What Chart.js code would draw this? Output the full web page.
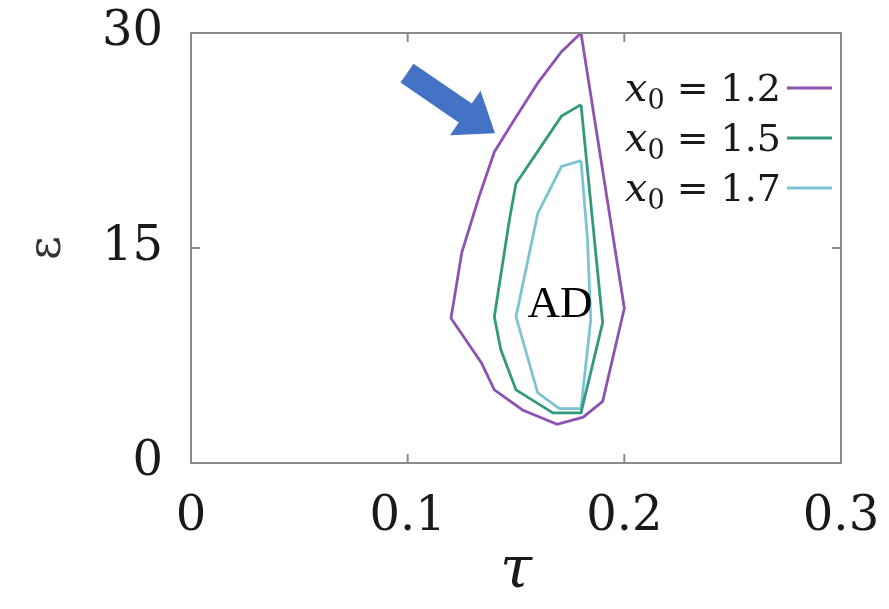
<!DOCTYPE html>
<html>
<head>
<meta charset="utf-8">
<script src="https://cdn.jsdelivr.net/npm/chart.js@4/dist/chart.umd.min.js"></script>
<style>
  html, body { margin: 0; padding: 0; background: #ffffff; }
  #wrap { width: 889px; height: 609px; }
</style>
</head>
<body>
<div id="wrap"><canvas id="c" width="889" height="609"></canvas></div>
<script>
// ---- data ----
const seriesLabels = ['1.2', '1.5', '1.7'];
const seriesColors = ['#8d52b2', '#33997c', '#7cc4d2'];

const tau12 = [0.180, 0.171, 0.160, 0.149, 0.140, 0.133, 0.125, 0.120, 0.134, 0.140, 0.153, 0.169, 0.181, 0.190, 0.200, 0.180];
const eps12 = [30.0, 28.7, 26.5, 23.9, 21.7, 18.6, 14.7, 10.1, 7.0, 5.1, 3.7, 2.7, 3.2, 4.3, 10.8, 30.0];

const tau15 = [0.180, 0.171, 0.150, 0.147, 0.140, 0.143, 0.150, 0.167, 0.180, 0.190, 0.180];
const eps15 = [25.0, 24.2, 19.5, 17.0, 10.2, 7.9, 5.1, 3.5, 3.5, 9.8, 25.0];

const tau17 = [0.180, 0.171, 0.160, 0.150, 0.160, 0.170, 0.180, 0.1845, 0.183, 0.180];
const eps17 = [21.1, 20.7, 17.4, 10.2, 4.9, 3.8, 3.8, 10.0, 15.6, 21.1];

const xTicks = [0, 0.1, 0.2, 0.3];
const yTicks = [0, 15, 30];

// annotation positions (data units)
const arrowTail = { x: 0.0997, y: 27.2 };
const arrowTip = { x: 0.1403, y: 23.0 };
const regionLabel = { x: 0.1703, y: 11.0, text: 'AD' };

function pts(xs, ys) { return xs.map((x, i) => ({ x: x, y: ys[i] })); }

const AXIS_COLOR = '#8a8a8a';
const TICK_FONT = 'DejaVu Serif';

const framePlugin = {
  id: 'frame',
  afterDraw(chart) {
    const ctx = chart.ctx;
    const a = chart.chartArea;
    const xs = chart.scales.x, ys = chart.scales.y;
    ctx.save();
    ctx.strokeStyle = AXIS_COLOR;
    ctx.lineWidth = 2;
    ctx.strokeRect(a.left, a.top, a.right - a.left, a.bottom - a.top);
    const tl = 9;
    ctx.beginPath();
    xTicks.forEach(v => {
      const px = xs.getPixelForValue(v);
      if (Math.abs(px - a.left) < 2 || Math.abs(px - a.right) < 2) return;
      ctx.moveTo(px, a.bottom); ctx.lineTo(px, a.bottom - tl);
      ctx.moveTo(px, a.top); ctx.lineTo(px, a.top + tl);
    });
    yTicks.forEach(v => {
      const py = ys.getPixelForValue(v);
      if (Math.abs(py - a.top) < 2 || Math.abs(py - a.bottom) < 2) return;
      ctx.moveTo(a.left, py); ctx.lineTo(a.left + tl, py);
      ctx.moveTo(a.right, py); ctx.lineTo(a.right - tl, py);
    });
    ctx.stroke();

    // arrow annotation
    const tx = xs.getPixelForValue(arrowTail.x), ty = ys.getPixelForValue(arrowTail.y);
    const hx = xs.getPixelForValue(arrowTip.x), hy = ys.getPixelForValue(arrowTip.y);
    const dx = hx - tx, dy = hy - ty;
    const L = Math.hypot(dx, dy);
    const ux = dx / L, uy = dy / L, nx = -uy, ny = ux;
    const sw = 11.5, hw = 27, hl = 36;
    const bx = hx - ux * hl, by = hy - uy * hl;
    ctx.fillStyle = '#4472c4';
    ctx.beginPath();
    ctx.moveTo(tx + nx * sw, ty + ny * sw);
    ctx.lineTo(bx + nx * sw, by + ny * sw);
    ctx.lineTo(bx + nx * hw, by + ny * hw);
    ctx.lineTo(hx, hy);
    ctx.lineTo(bx - nx * hw, by - ny * hw);
    ctx.lineTo(bx - nx * sw, by - ny * sw);
    ctx.lineTo(tx - nx * sw, ty - ny * sw);
    ctx.closePath();
    ctx.fill();

    // region label
    ctx.fillStyle = '#000000';
    ctx.font = '45px "Liberation Serif"';
    ctx.textAlign = 'center';
    ctx.textBaseline = 'middle';
    ctx.fillText(regionLabel.text, xs.getPixelForValue(regionLabel.x), ys.getPixelForValue(regionLabel.y));

    // legend (text then line sample, inside plot at top right)
    const rowTop = a.top + 55, rowGap = 50;
    const lineR = a.right - 9, lineL = lineR - 45, textR = lineL - 6;
    seriesLabels.forEach((lab, i) => {
      const y = rowTop + i * rowGap;
      ctx.strokeStyle = seriesColors[i];
      ctx.lineWidth = 3;
      ctx.beginPath(); ctx.moveTo(lineL, y); ctx.lineTo(lineR, y); ctx.stroke();
      ctx.fillStyle = '#1a1a1a';
      ctx.textBaseline = 'alphabetic';
      ctx.textAlign = 'left';
      const base = y + 13;
      const fMain = '38px "DejaVu Serif"';
      const fIt = 'italic 40px "DejaVu Serif"';
      const fSub = '27px "DejaVu Serif"';
      const rest = ' = ' + lab;
      ctx.font = fIt; const wX = ctx.measureText('x').width;
      ctx.font = fSub; const wS = ctx.measureText('0').width;
      ctx.font = fMain; const wR = ctx.measureText(rest).width;
      let x0 = textR - (wX + wS + wR);
      ctx.font = fIt; ctx.fillText('x', x0, base); x0 += wX;
      ctx.font = fSub; ctx.fillText('0', x0, base + 8); x0 += wS;
      ctx.font = fMain; ctx.fillText(rest, x0, base);
    });
    ctx.restore();
  }
};

const ds = [
  { tau: tau12, eps: eps12 },
  { tau: tau15, eps: eps15 },
  { tau: tau17, eps: eps17 }
].map((s, i) => ({
  label: 'x₀ = ' + seriesLabels[i],
  data: pts(s.tau, s.eps),
  showLine: true,
  borderColor: seriesColors[i],
  backgroundColor: seriesColors[i],
  borderWidth: 2.8,
  pointRadius: 0,
  tension: 0,
  fill: false
}));

new Chart(document.getElementById('c'), {
  type: 'scatter',
  data: { datasets: ds },
  plugins: [framePlugin],
  options: {
    responsive: false,
    animation: false,
    layout: { padding: { top: 33, right: 48, left: 0, bottom: 0 } },
    plugins: { legend: { display: false }, tooltip: { enabled: false } },
    scales: {
      x: {
        type: 'linear', min: 0, max: 0.3,
        afterBuildTicks: s => { s.ticks = xTicks.map(v => ({ value: v })); },
        afterFit: s => { s.height = 146; s.paddingLeft = 0; s.paddingRight = 0; },
        ticks: {
          color: '#1a1a1a', padding: 26, maxRotation: 0, autoSkip: false,
          font: { family: TICK_FONT, size: 48 },
          callback: v => String(Math.round(v * 10) / 10)
        },
        grid: { display: false, drawTicks: false },
        border: { display: false },
        title: {
          display: true, text: 'τ', color: '#1a1a1a',
          font: { family: TICK_FONT, size: 58, style: 'italic' },
          padding: { top: 0, bottom: 2 }
        }
      },
      y: {
        type: 'linear', min: 0, max: 30,
        afterBuildTicks: s => { s.ticks = yTicks.map(v => ({ value: v })); },
        afterFit: s => { s.width = 191; s.paddingTop = 0; s.paddingBottom = 0; },
        ticks: {
          color: '#1a1a1a', padding: 28, autoSkip: false,
          font: { family: TICK_FONT, size: 48 }
        },
        grid: { display: false, drawTicks: false },
        border: { display: false },
        title: {
          display: true, text: 'ε', color: '#333333',
          font: { family: TICK_FONT, size: 46 },
          padding: { top: 20, bottom: 0 }
        }
      }
    }
  }
});
</script>
</body>
</html>
